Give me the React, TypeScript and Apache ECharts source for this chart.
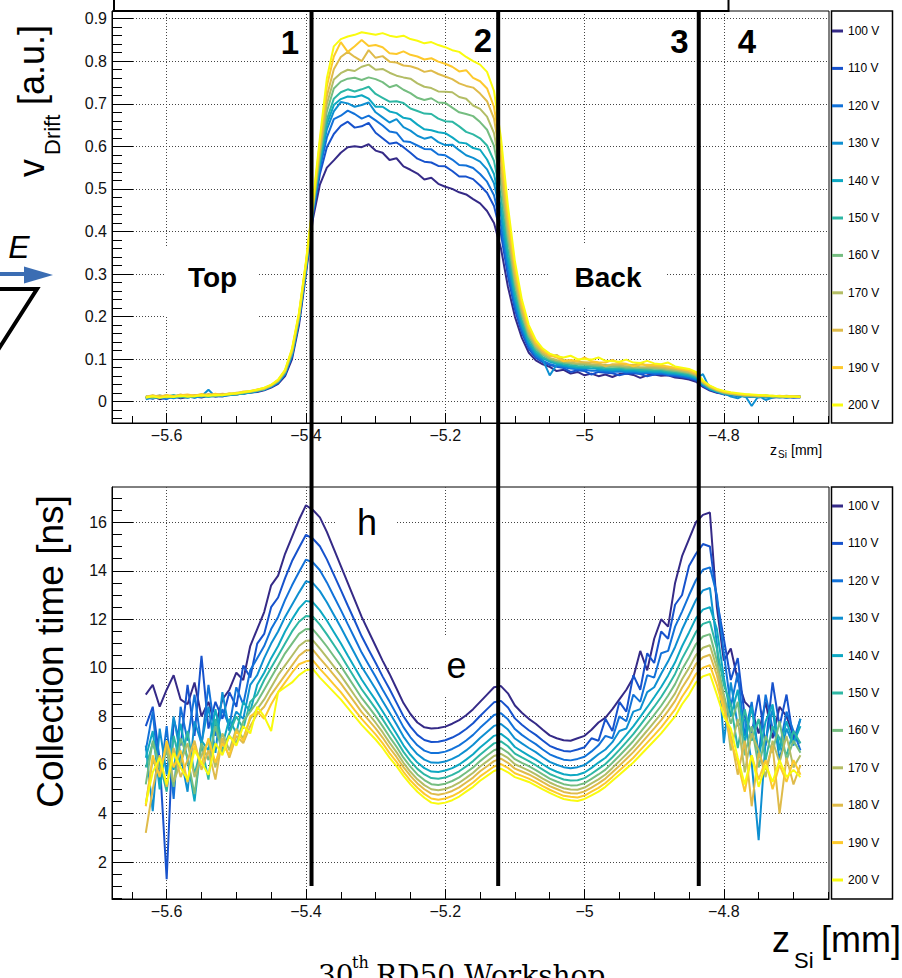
import React, { useEffect, useRef } from "react";
import * as echarts from "echarts";

const FONT = '"Liberation Sans", Arial, Helvetica, sans-serif';

const voltages = ["100 V", "110 V", "120 V", "130 V", "140 V", "150 V", "160 V", "170 V", "180 V", "190 V", "200 V"];
const colors = ["#352a87", "#1752cc", "#1272d9", "#0e8fd1", "#0ea8c2", "#2eb7a4", "#75bd80", "#b3bd65", "#dfbb4a", "#fdc92c", "#f9fb0e"];

const zSi = [-5.63,-5.62,-5.61,-5.6,-5.59,-5.58,-5.57,-5.56,-5.55,-5.54,-5.53,-5.52,-5.51,-5.5,-5.49,-5.48,-5.47,-5.46,-5.45,-5.44,-5.43,-5.42,-5.41,-5.4,-5.39,-5.38,-5.37,-5.36,-5.35,-5.34,-5.33,-5.32,-5.31,-5.3,-5.29,-5.28,-5.27,-5.26,-5.25,-5.24,-5.23,-5.22,-5.21,-5.2,-5.19,-5.18,-5.17,-5.16,-5.15,-5.14,-5.13,-5.12,-5.11,-5.1,-5.09,-5.08,-5.07,-5.06,-5.05,-5.04,-5.03,-5.02,-5.01,-5,-4.99,-4.98,-4.97,-4.96,-4.95,-4.94,-4.93,-4.92,-4.91,-4.9,-4.89,-4.88,-4.87,-4.86,-4.85,-4.84,-4.83,-4.82,-4.81,-4.8,-4.79,-4.78,-4.77,-4.76,-4.75,-4.74,-4.73,-4.72,-4.71,-4.7,-4.69];

// ---- drift velocity [a.u.] ----
const vDrift100 = [.008,.012,.006,.010,.013,.008,.011,.012,.010,.014,.012,.015,.016,.017,.019,.021,.023,.027,
.033,.042,.06,.10,.18,.30,.43,.51,.55,.567,.585,.598,
.60,.598,.605,.59,.585,.568,.572,.553,.545,.536,.522,.526,
.512,.505,.50,.492,.487,.476,.466,.448,.42,.36,.27,.20,
.15,.115,.097,.088,.082,.072,.075,.066,.07,.062,.066,.060,
.064,.058,.065,.066,.063,.056,.062,.064,.061,.062,.057,.055,
.052,.047,.035,.026,.021,
.018,.016,.014,.013,.012,.011,.012,.010,.011,.010,.011,.010];
const vDrift110 = [.011,.007,.013,.009,.012,.015,.010,.013,.011,.016,.013,.012,.017,.018,.020,.022,.025,.028,
.035,.044,.064,.106,.187,.307,.439,.535,.598,.629,.648,.658,
.644,.647,.655,.632,.619,.606,.609,.598,.585,.571,.564,.562,
.554,.553,.542,.529,.529,.523,.508,.491,.460,.394,.295,.217,
.162,.124,.103,.093,.086,.082,.079,.070,.074,.072,.064,.070,
.068,.067,.062,.066,.067,.065,.060,.064,.065,.062,.060,.058,
.055,.050,.037,.028,.022,
.019,.015,.016,.012,.013,.010,.013,.011,.012,.011,.010,.011];
const vDrift120 = [.009,.013,.010,.006,.014,.011,.013,.009,.015,.012,.016,.014,.015,.019,.018,.023,.024,.029,
.035,.045,.065,.109,.190,.310,.444,.547,.621,.664,.672,.684,
.676,.665,.672,.661,.649,.635,.632,.612,.610,.602,.594,.593,
.581,.579,.569,.556,.555,.549,.535,.517,.485,.415,.310,.227,
.169,.129,.107,.096,.089,.084,.081,.078,.076,.075,.073,.073,
.071,.070,.071,.069,.069,.067,.068,.066,.067,.064,.063,.060,
.057,.052,.038,.029,.023,
.017,.018,.013,.015,.011,.013,.010,.012,.011,.013,.010,.011];
const vDrift130 = [.006,.010,.014,.011,.008,.012,.016,.010,.013,.028,.012,.015,.017,.016,.021,.022,.026,.028,
.036,.046,.067,.111,.193,.313,.447,.557,.640,.682,.704,.701,
.693,.697,.703,.680,.668,.656,.664,.645,.637,.625,.618,.622,
.610,.603,.604,.591,.579,.573,.564,.546,.513,.438,.327,.239,
.177,.135,.111,.099,.062,.087,.084,.081,.079,.078,.085,.075,
.074,.073,.074,.071,.072,.070,.070,.069,.069,.066,.065,.063,
.060,.054,.065,.030,.024,
.020,.012,.008,.016,-.010,.014,.004,.010,.012,.009,.013,.012];
const vDrift140 = [.012,.008,.011,.015,.010,.013,.009,.014,.012,.013,.017,.014,.016,.018,.020,.021,.025,.030,
.036,.047,.067,.112,.195,.315,.449,.563,.652,.697,.711,.717,
.716,.720,.712,.693,.693,.682,.678,.667,.664,.651,.640,.638,
.633,.631,.621,.609,.607,.596,.592,.569,.535,.456,.340,.248,
.183,.139,.115,.102,.094,.089,.086,.083,.081,.080,.078,.078,
.076,.075,.076,.074,.074,.072,.072,.071,.071,.068,.067,.064,
.061,.056,.041,.030,.024,
.019,.017,.015,.012,.014,.011,.013,.012,.010,.012,.011,.012];
const vDrift150 = [.010,.014,.009,.012,.016,.010,.014,.012,.015,.011,.014,.018,.016,.019,.019,.024,.026,.029,
.037,.047,.068,.114,.196,.316,.452,.569,.663,.712,.727,.734,
.729,.734,.740,.723,.714,.705,.706,.702,.689,.683,.677,.676,
.665,.659,.658,.647,.634,.628,.619,.602,.566,.482,.359,.261,
.192,.146,.120,.105,.097,.092,.089,.086,.084,.083,.082,.081,
.079,.078,.079,.077,.077,.075,.075,.074,.074,.071,.069,.067,
.064,.058,.042,.032,.025,
.021,.018,.016,.015,.012,.014,.012,.011,.013,.011,.012,.011];
const vDrift160 = [.013,.009,.012,.010,.013,.016,.011,.015,.013,.016,.014,.016,.019,.017,.022,.023,.027,.031,
.037,.048,.070,.116,.199,.319,.455,.579,.682,.736,.752,.759,
.761,.756,.762,.758,.751,.739,.744,.733,.725,.714,.709,.713,
.703,.702,.691,.680,.676,.671,.657,.639,.601,.512,.381,.276,
.203,.153,.125,.110,.100,.095,.092,.090,.088,.087,.085,.084,
.083,.082,.082,.080,.080,.079,.078,.078,.077,.074,.072,.070,
.067,.061,.044,.033,.026,
.020,.019,.015,.017,.013,.012,.015,.012,.013,.012,.011,.012];
const vDrift170 = [.009,.012,.015,.011,.014,.012,.016,.013,.017,.014,.018,.015,.018,.020,.021,.024,.026,.030,
.038,.049,.071,.118,.201,.321,.458,.588,.699,.757,.772,.780,
.777,.787,.792,.780,.782,.773,.766,.762,.759,.748,.740,.737,
.729,.728,.727,.716,.712,.696,.688,.670,.631,.537,.399,.288,
.211,.159,.130,.113,.103,.098,.095,.092,.090,.090,.088,.087,
.086,.085,.085,.083,.083,.081,.081,.080,.079,.077,.075,.072,
.069,.063,.045,.034,.027,
.022,.018,.017,.014,.016,.013,.014,.013,.012,.014,.012,.011];
const vDrift180 = [.012,.015,.011,.014,.012,.017,.013,.016,.014,.018,.015,.019,.017,.021,.023,.025,.028,.031,
.039,.050,.072,.120,.204,.324,.462,.598,.718,.781,.810,.822,
.810,.800,.826,.808,.812,.799,.797,.790,.788,.783,.775,.778,
.770,.764,.758,.748,.742,.738,.724,.706,.665,.565,.420,.303,
.221,.166,.135,.117,.107,.110,.098,.096,.094,.093,.092,.091,
.083,.088,.088,.087,.086,.091,.084,.084,.082,.080,.078,.075,
.072,.065,.047,.036,.028,
.023,.020,.018,.016,.015,.014,.013,.014,.012,.013,.012,.012];
const vDrift190 = [.011,.014,.012,.016,.013,.015,.017,.014,.018,.015,.019,.016,.020,.019,.024,.024,.029,.032,
.039,.051,.074,.123,.207,.327,.466,.610,.741,.811,.845,.822,
.835,.850,.836,.838,.833,.819,.817,.823,.815,.811,.804,.807,
.799,.794,.787,.776,.779,.761,.753,.736,.693,.589,.437,.314,
.229,.172,.139,.121,.109,.104,.095,.098,.096,.104,.095,.093,
.092,.098,.091,.089,.083,.087,.087,.086,.085,.083,.080,.077,
.074,.067,.048,.037,.029,
.024,.021,.019,.017,.016,.015,.014,.013,.014,.012,.013,.012];
const vDrift200 = [.010,.013,.009,.012,.011,.014,.012,.013,.015,.014,.016,.015,.018,.020,.022,.025,.028,.033,
.04,.052,.075,.125,.21,.33,.47,.62,.76,.835,.852,.858,
.862,.868,.865,.862,.866,.86,.857,.86,.852,.848,.842,.845,
.838,.833,.826,.822,.81,.80,.792,.775,.73,.62,.46,.33,
.24,.18,.145,.125,.113,.107,.104,.108,.10,.10,.099,.104,
.096,.095,.094,.099,.092,.091,.096,.09,.088,.092,.083,.08,
.077,.07,.05,.038,.03,
.025,.022,.020,.018,.017,.016,.015,.014,.013,.012,.012,.011];

// ---- collection time [ns] ----
const tColl100 = [8.9,9.3,8.4,9.1,9.7,8.7,8.5,9.4,8.0,8.6,7.6,8.7,9.1,9.8,9.5,10.9,11.6,12.3,13.4,13.8,14.7,15.4,16.1,16.7,16.5,16.2,15.6,14.9,14.2,13.5,12.8,12.1,11.5,10.9,10.3,9.75,9.15,8.55,8.1,7.75,7.55,7.5,7.52,7.58,7.7,7.85,8.05,8.3,8.6,8.9,9.2,9.25,8.95,8.45,8.15,7.9,7.7,7.45,7.22,7.1,7.02,7.0,7.1,7.2,7.45,7.75,7.95,8.3,8.7,9.1,9.6,10.7,9.9,11.2,12.0,11.7,13.5,14.6,15.3,16.0,16.3,16.4,12.5,10.3,10.8,9.5,8.6,8.3,7.3,8.6,7.1,8.4,8.0,7.2,6.9];
const tColl110 = [7.6,8.4,6.2,1.3,7.9,6.8,9.3,7.2,10.5,7.5,8.6,7.9,9.0,8.4,10.1,9.6,11.0,11.4,12.5,12.9,13.7,14.4,14.95,15.48,15.32,15.01,14.47,13.84,13.21,12.57,11.94,11.30,10.75,10.21,9.65,9.13,8.57,8.01,7.58,7.24,7.03,6.95,6.96,7.02,7.13,7.28,7.48,7.72,8.02,8.30,8.58,8.64,8.37,7.92,7.66,7.43,7.24,7.01,6.79,6.67,6.58,6.56,6.64,6.73,7.1,7.0,7.9,7.4,8.6,8.2,9.7,9.1,10.6,10.2,11.5,11.2,12.6,13.0,14.2,14.7,15.1,15.0,12.8,11.2,9.5,10.4,8.0,7.3,8.9,6.8,9.4,7.6,8.9,7.0,7.9];
const tColl120 = [6.6,8.2,5.3,7.6,4.6,8.4,7.0,8.9,6.8,9.3,7.2,8.3,7.6,9.2,8.5,9.9,10.4,10.9,11.6,12.1,12.8,13.4,13.95,14.46,14.34,14.02,13.52,12.95,12.39,11.80,11.22,10.63,10.13,9.63,9.11,8.61,8.09,7.56,7.14,6.81,6.59,6.49,6.49,6.55,6.66,6.81,7.01,7.24,7.53,7.79,8.06,8.13,7.88,7.48,7.24,7.04,6.86,6.64,6.44,6.32,6.22,6.19,6.25,6.34,6.56,6.81,7.2,7.1,8.0,7.8,8.9,8.6,9.7,9.6,10.6,10.7,11.7,12.32,12.99,13.62,14.04,14.14,13.0,10.6,8.4,9.8,7.2,8.6,6.4,8.9,7.5,6.7,8.2,7.4,6.6];
const tColl130 = [6.8,4.1,7.5,5.6,8.0,6.4,4.9,7.8,6.9,8.4,6.5,9.0,7.4,8.2,7.9,9.3,9.7,10.4,11.0,11.5,12.1,12.6,13.1,13.57,13.49,13.16,12.70,12.19,11.67,11.13,10.59,10.05,9.59,9.13,8.64,8.16,7.68,7.17,6.77,6.44,6.22,6.10,6.09,6.14,6.25,6.40,6.60,6.83,7.11,7.36,7.61,7.69,7.46,7.09,6.89,6.70,6.53,6.32,6.13,6.01,5.91,5.87,5.91,6.00,6.21,6.44,6.64,6.94,7.4,7.5,8.2,8.3,9.0,9.2,9.76,10.27,10.86,11.58,12.19,12.80,13.19,13.29,11.0,6.9,9.4,7.6,7.9,6.1,2.9,7.0,8.3,6.2,7.5,6.8,7.9];
const tColl140 = [6.3,7.4,5.0,6.9,5.8,7.7,6.2,4.5,7.0,6.6,8.3,6.8,7.9,7.3,8.6,8.2,9.3,9.8,10.4,10.9,11.5,12.0,12.45,12.76,12.70,12.37,11.95,11.48,11.01,10.51,10.02,9.52,9.09,8.67,8.21,7.75,7.29,6.81,6.42,6.10,5.87,5.73,5.71,5.77,5.87,6.02,6.22,6.44,6.72,6.96,7.20,7.28,7.07,6.74,6.56,6.39,6.22,6.03,5.85,5.72,5.62,5.58,5.60,5.69,5.88,6.10,6.30,6.59,6.90,7.24,7.59,7.98,8.38,8.79,9.21,9.69,10.23,10.89,11.46,12.05,12.40,12.50,11.6,9.6,8.0,9.1,6.9,8.4,6.3,7.8,8.5,6.6,7.8,6.9,7.6];
const tColl150 = [5.9,6.9,6.1,4.9,7.2,6.0,7.4,5.6,6.8,5.4,7.9,6.6,7.3,8.0,7.5,8.6,8.9,9.5,10.0,10.5,11.0,11.5,11.9,12.14,12.11,11.78,11.38,10.95,10.52,10.05,9.58,9.12,8.72,8.32,7.89,7.44,7.01,6.54,6.16,5.84,5.61,5.46,5.43,5.48,5.59,5.74,5.94,6.16,6.42,6.66,6.89,6.97,6.77,6.47,6.31,6.16,5.99,5.81,5.63,5.51,5.40,5.36,5.37,5.46,5.64,5.84,6.04,6.32,6.62,6.94,7.27,7.64,8.02,8.40,8.80,9.25,9.75,10.38,10.91,11.48,11.81,11.91,10.8,9.3,8.5,6.7,8.3,7.0,7.9,6.2,7.6,7.1,6.4,7.4,6.9];
const tColl160 = [5.2,7.0,5.8,6.6,5.1,7.1,6.3,4.8,6.9,6.2,7.6,6.5,7.2,6.9,7.8,8.2,8.6,9.1,9.6,10.1,10.6,11.0,11.4,11.6,11.59,11.25,10.88,10.48,10.08,9.64,9.2,8.76,8.39,8.01,7.6,7.16,6.75,6.3,5.93,5.61,5.38,5.21,5.18,5.23,5.34,5.49,5.69,5.9,6.16,6.39,6.61,6.7,6.51,6.24,6.09,5.95,5.79,5.61,5.44,5.32,5.21,5.16,5.17,5.25,5.43,5.61,5.81,6.09,6.38,6.68,6.99,7.34,7.7,8.06,8.44,8.86,9.33,9.93,10.43,10.98,11.29,11.39,10.3,8.9,7.7,8.6,6.4,7.6,5.9,7.2,6.5,7.8,6.2,7.0,6.5];
const tColl170 = [4.4,6.2,5.6,6.8,5.3,6.1,6.9,5.5,6.4,7.0,5.9,7.3,6.6,7.5,7.1,7.9,8.3,8.7,9.2,9.7,10.1,10.5,10.9,11.12,11.13,10.79,10.43,10.06,9.69,9.28,8.86,8.45,8.10,7.74,7.35,6.92,6.53,6.09,5.72,5.41,5.17,5.0,4.96,5.01,5.12,5.27,5.47,5.68,5.94,6.15,6.37,6.46,6.29,6.03,5.90,5.77,5.61,5.44,5.28,5.15,5.04,4.99,4.98,5.07,5.24,5.41,5.61,5.88,6.16,6.44,6.74,7.08,7.42,7.77,8.12,8.52,8.95,9.53,10.0,10.53,10.83,10.93,10.0,8.8,6.6,7.9,5.7,7.3,6.6,5.5,7.0,6.1,7.2,5.9,6.4];
const tColl180 = [3.2,5.0,6.4,5.1,6.7,5.5,6.2,7.0,5.8,6.6,5.4,7.1,6.3,7.2,6.9,7.6,8.1,8.4,8.9,9.3,9.7,10.1,10.5,10.72,10.74,10.39,10.06,9.71,9.36,8.97,8.58,8.18,7.85,7.51,7.13,6.71,6.33,5.91,5.55,5.24,5.0,4.82,4.77,4.83,4.93,5.08,5.28,5.48,5.74,5.95,6.16,6.26,6.09,5.85,5.73,5.61,5.46,5.29,5.13,5.01,4.89,4.84,4.83,4.91,5.07,5.24,5.44,5.70,5.97,6.25,6.53,6.85,7.18,7.51,7.85,8.23,8.64,9.18,9.63,10.16,10.44,10.54,9.7,8.5,7.2,5.6,7.0,4.3,6.5,5.8,6.8,4.0,6.3,5.2,6.0];
const tColl190 = [4.3,6.4,5.5,7.0,5.9,6.6,5.3,6.8,6.0,7.1,6.1,6.9,6.4,7.4,7.0,8.0,8.2,7.9,8.5,9.0,9.4,9.8,10.15,10.27,10.31,9.96,9.65,9.32,9.0,8.63,8.26,7.9,7.58,7.26,6.9,6.49,6.13,5.72,5.36,5.06,4.81,4.62,4.57,4.62,4.72,4.87,5.07,5.28,5.53,5.73,5.94,6.04,5.88,5.66,5.55,5.44,5.29,5.13,4.98,4.85,4.73,4.69,4.66,4.74,4.90,5.06,5.26,5.51,5.77,6.03,6.3,6.61,6.92,7.23,7.55,7.92,8.29,8.81,9.24,9.75,10.01,10.11,9.3,8.3,7.0,6.1,4.9,6.4,5.4,6.2,5.0,6.0,5.3,6.2,5.6];
const tColl200 = [4.4,5.7,6.3,5.2,6.5,5.9,5.4,6.6,6.1,5.6,6.9,6.4,7.2,6.8,7.6,7.3,8.4,8.0,7.4,9.0,9.2,9.4,9.7,9.9,9.95,9.6,9.3,9.0,8.7,8.35,8.0,7.65,7.35,7.05,6.7,6.3,5.95,5.55,5.2,4.9,4.65,4.45,4.4,4.45,4.55,4.7,4.9,5.1,5.35,5.55,5.75,5.85,5.7,5.5,5.4,5.3,5.15,5.0,4.85,4.72,4.6,4.55,4.52,4.6,4.75,4.9,5.1,5.35,5.6,5.85,6.1,6.4,6.7,7.0,7.3,7.65,8.0,8.5,8.9,9.4,9.65,9.75,8.9,8.0,7.5,6.3,5.2,6.4,5.1,6.0,5.3,6.2,5.5,5.8,5.5];

const vDriftData = [vDrift100, vDrift110, vDrift120, vDrift130, vDrift140, vDrift150, vDrift160, vDrift170, vDrift180, vDrift190, vDrift200];
const tCollData = [tColl100, tColl110, tColl120, tColl130, tColl140, tColl150, tColl160, tColl170, tColl180, tColl190, tColl200];

// ---- axes ----
const xRange = [-5.6785, -4.649];
const vRange = [-0.05, 0.918];
const tRange = [0.48, 17.45];
const xMajorTicks = [-5.6, -5.4, -5.2, -5, -4.8];
const xMinorTicks = [-5.65,-5.6,-5.55,-5.5,-5.45,-5.4,-5.35,-5.3,-5.25,-5.2,-5.15,-5.1,-5.05,-5,-4.95,-4.9,-4.85,-4.8,-4.75,-4.7,-4.65];
const vMajorTicks = [0, 0.1, 0.2, 0.3, 0.4, 0.5, 0.6, 0.7, 0.8, 0.9];
const vMinorTicks = [-0.04,-0.02,0,0.02,0.04,0.06,0.08,0.1,0.12,0.14,0.16,0.18,0.2,0.22,0.24,0.26,0.28,0.3,0.32,0.34,0.36,0.38,0.4,0.42,0.44,0.46,0.48,0.5,0.52,0.54,0.56,0.58,0.6,0.62,0.64,0.66,0.68,0.7,0.72,0.74,0.76,0.78,0.8,0.82,0.84,0.86,0.88,0.9];
const tMajorTicks = [2, 4, 6, 8, 10, 12, 14, 16];
const tMinorTicks = [0.5,1,1.5,2,2.5,3,3.5,4,4.5,5,5.5,6,6.5,7,7.5,8,8.5,9,9.5,10,10.5,11,11.5,12,12.5,13,13.5,14,14.5,15,15.5,16,16.5,17];

// region boundaries (vertical markers)
const regionBounds = [-5.392, -5.124, -4.836];

const fmt = (v: number) => String(v).replace("-", "\u2212");

function majorX(grid: number) {
  return {
    type: "value", gridIndex: grid, min: xRange[0], max: xRange[1], position: "bottom",
    axisLine: { show: true, onZero: false, lineStyle: { color: "#000", width: 1 } },
    axisTick: { show: true, inside: true, length: 10, customValues: xMajorTicks, lineStyle: { color: "#000", width: 1 } },
    axisLabel: { show: true, customValues: xMajorTicks, formatter: fmt, fontSize: 16, fontFamily: FONT, color: "#111", margin: 4 },
    splitLine: { show: true, lineStyle: { type: [1, 2], color: "#444", width: 1 } },
  };
}
function minorX(grid: number) {
  return {
    type: "value", gridIndex: grid, min: xRange[0], max: xRange[1], position: "bottom",
    axisLine: { show: false, onZero: false },
    axisTick: { show: true, inside: true, length: 7, customValues: xMinorTicks, lineStyle: { color: "#000", width: 1 } },
    axisLabel: { show: false },
    splitLine: { show: false },
  };
}
function majorY(grid: number, range: number[], ticks: number[]) {
  return {
    type: "value", gridIndex: grid, min: range[0], max: range[1], position: "left",
    axisLine: { show: true, onZero: false, lineStyle: { color: "#000", width: 1 } },
    axisTick: { show: true, inside: true, length: 21, customValues: ticks, lineStyle: { color: "#000", width: 1 } },
    axisLabel: { show: true, customValues: ticks, formatter: fmt, fontSize: 16, fontFamily: FONT, color: "#111", margin: 5 },
    splitLine: { show: true, lineStyle: { type: [1, 2], color: "#444", width: 1 } },
  };
}
function minorY(grid: number, range: number[], ticks: number[]) {
  return {
    type: "value", gridIndex: grid, min: range[0], max: range[1], position: "left",
    axisLine: { show: false, onZero: false },
    axisTick: { show: true, inside: true, length: 10, customValues: ticks, lineStyle: { color: "#000", width: 1 } },
    axisLabel: { show: false },
    splitLine: { show: false },
  };
}

function legendFor(top: number) {
  return {
    data: voltages, orient: "vertical", left: 832, top, padding: 0,
    itemWidth: 11, itemHeight: 3, itemGap: 23.4, icon: "rect", selectedMode: false,
    textStyle: { fontSize: 12, lineHeight: 14, color: "#000", fontFamily: FONT },
  };
}

function txt(text: string, x: number, y: number, size: number, opts: any = {}) {
  return {
    type: "text", x, y, z: opts.z ?? 100, rotation: opts.rotation ?? 0,
    style: {
      text, fontSize: size, fontFamily: opts.family ?? FONT, fontWeight: opts.weight ?? "normal",
      fontStyle: opts.style ?? "normal", fill: opts.fill ?? "#000",
      align: opts.align ?? "center", verticalAlign: opts.valign ?? "middle",
      textAlign: opts.align ?? "center", textVerticalAlign: opts.valign ?? "middle",
    },
  };
}

export default function App() {
  const ref = useRef<HTMLDivElement>(null);
  useEffect(() => {
    if (!ref.current) return;
    const chart = echarts.init(ref.current, undefined, { renderer: "svg", width: 902, height: 978 });
    const series: any[] = [];
    voltages.forEach((name, k) => {
      series.push({
        type: "line", name, xAxisIndex: 0, yAxisIndex: 0, showSymbol: false, symbol: "none",
        color: colors[k], lineStyle: { width: 2, color: colors[k] },
        data: zSi.map((x, i) => [x, vDriftData[k][i]]),
      });
    });
    voltages.forEach((name, k) => {
      series.push({
        type: "line", name, xAxisIndex: 2, yAxisIndex: 2, showSymbol: false, symbol: "none",
        color: colors[k], lineStyle: { width: 2, color: colors[k] },
        data: zSi.map((x, i) => [x, tCollData[k][i]]),
      });
    });
    chart.setOption({
      animation: false,
      backgroundColor: "#fff",
      grid: [
        { left: 112, top: 11, width: 717, height: 412, show: true, borderColor: "#000", borderWidth: 1, backgroundColor: "transparent" },
        { left: 112, top: 487, width: 717, height: 412, show: true, borderColor: "#000", borderWidth: 1, backgroundColor: "transparent" },
      ],
      xAxis: [majorX(0), minorX(0), majorX(1), minorX(1)],
      yAxis: [majorY(0, vRange, vMajorTicks), minorY(0, vRange, vMinorTicks), majorY(1, tRange, tMajorTicks), minorY(1, tRange, tMinorTicks)],
      legend: [legendFor(24), legendFor(499)],
      series,
    });

    const bx = regionBounds.map((v) => chart.convertToPixel({ xAxisIndex: 0 }, v) as number);
    const g: any[] = [];
    // top frame box (cropped)
    g.push({ type: "rect", z: 50, shape: { x: 114, y: -6, width: 614.5, height: 17 }, style: { fill: "#fff", stroke: "#000", lineWidth: 2 } });
    // legend boxes
    g.push({ type: "rect", z: 1, shape: { x: 831.5, y: 11, width: 61, height: 412 }, style: { fill: "none", stroke: "#000", lineWidth: 1.5 } });
    g.push({ type: "rect", z: 1, shape: { x: 831.5, y: 487, width: 61, height: 412 }, style: { fill: "none", stroke: "#000", lineWidth: 1.5 } });
    // white label boxes
    g.push({ type: "rect", z: 1, shape: { x: 165, y: 248, width: 93, height: 69 }, style: { fill: "#fff" } });
    g.push({ type: "rect", z: 1, shape: { x: 549, y: 245, width: 118, height: 62 }, style: { fill: "#fff" } });
    g.push({ type: "rect", z: 1, shape: { x: 337, y: 492, width: 60, height: 62 }, style: { fill: "#fff" } });
    g.push({ type: "rect", z: 1, shape: { x: 428, y: 635, width: 60, height: 62 }, style: { fill: "#fff" } });
    g.push(txt("Top", 212.5, 277, 28, { weight: "bold", z: 5 }));
    g.push(txt("Back", 608, 277, 28, { weight: "bold", z: 5 }));
    g.push(txt("h", 367, 522.5, 36, { z: 5 }));
    g.push(txt("e", 456.5, 665.5, 36, { z: 5 }));
    // region boundary lines
    bx.forEach((x) => {
      g.push({ type: "line", z: 60, shape: { x1: x, y1: 11, x2: x, y2: 886 }, style: { stroke: "#000", lineWidth: 4 } });
    });
    g.push(txt("1", 290, 42, 33, { weight: "bold" }));
    g.push(txt("2", 483, 40, 33, { weight: "bold" }));
    g.push(txt("3", 679.5, 41, 33, { weight: "bold" }));
    g.push(txt("4", 747, 41, 33, { weight: "bold" }));
    // E field arrow and cropped sketch
    g.push(txt("E", 19, 247, 32, { style: "italic" }));
    g.push({ type: "line", z: 100, shape: { x1: -2, y1: 274, x2: 28, y2: 274 }, style: { stroke: "#3b6db3", lineWidth: 4 } });
    g.push({ type: "polygon", z: 100, shape: { points: [[24, 266.5], [53, 275], [24, 283.5]] }, style: { fill: "#3b6db3" } });
    g.push({ type: "polyline", z: 100, shape: { points: [[-4, 289], [37, 289], [-2, 350]] }, style: { stroke: "#000", lineWidth: 4, fill: "none" } });
    // y axis titles (rotated)
    const rot = Math.PI / 2;
    g.push(txt("v", 31.5, 177, 36, { rotation: rot, align: "left" }));
    g.push(txt("Drift", 52.4, 155, 22, { rotation: rot, align: "left" }));
    g.push(txt("[a.u.]", 31.5, 105, 36, { rotation: rot, align: "left" }));
    g.push(txt("Collection time [ns]", 50.2, 651.5, 37, { rotation: rot }));
    // x axis titles
    g.push(txt("z", 770, 450, 14, { align: "left" }));
    g.push(txt("Si", 778, 454, 10, { align: "left" }));
    g.push(txt("[mm]", 791, 450, 14, { align: "left" }));
    g.push(txt("z", 772, 939.5, 36, { align: "left" }));
    g.push(txt("Si", 794, 960.4, 22, { align: "left" }));
    g.push(txt("[mm]", 821, 939.5, 36, { align: "left" }));
    // footer (cropped at the page edge, as in the reference)
    g.push(txt("30", 318, 975, 28, { align: "left", family: '"DejaVu Serif", "Liberation Serif", serif' }));
    g.push(txt("th", 352, 962, 16, { align: "left", family: '"DejaVu Serif", "Liberation Serif", serif' }));
    g.push(txt("RD50 Workshop", 376, 975, 28, { align: "left", family: '"DejaVu Serif", "Liberation Serif", serif' }));
    chart.setOption({ graphic: g });

    return () => chart.dispose();
  }, []);
  return <div ref={ref} style={{ position: "absolute", left: 0, top: 0, width: 902, height: 978, background: "#fff" }} />;
}
